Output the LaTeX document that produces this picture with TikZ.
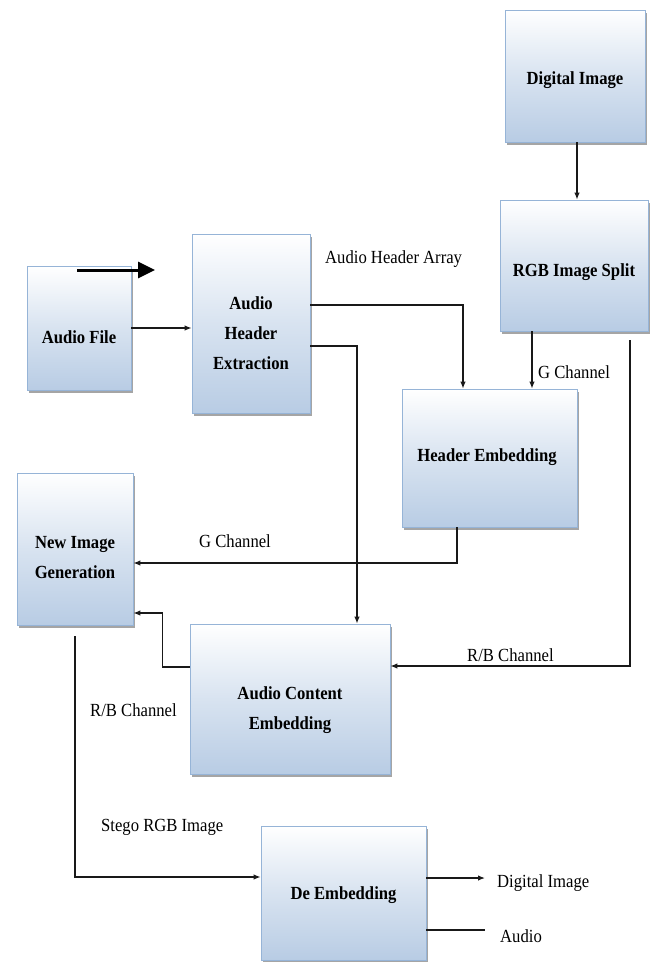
\documentclass[tikz,border=0pt]{standalone}
\usepackage{fontspec}
\setmainfont{Liberation Serif}[FakeStretch=0.9]
\usetikzlibrary{arrows.meta,shadows,calc}

\definecolor{boxblue}{RGB}{184,204,228}
\definecolor{boxedge}{RGB}{150,180,215}
\definecolor{shadowgray}{RGB}{165,165,165}

% centred stack of lines, baseline on the first line
\newcommand\stackl[1]{\begin{tabular}[t]{@{}c@{}}#1\end{tabular}}

\begin{document}
\begin{tikzpicture}[x=1pt,y=-1pt,
  blk/.style={rectangle, draw=boxedge, line width=0.8pt, inner sep=0pt,
    top color=white, bottom color=boxblue, middle color=boxblue!55!white,
    drop shadow={shadow xshift=2pt, shadow yshift=-2.5pt, fill=shadowgray, opacity=1}},
  btxt/.style={anchor=base, inner sep=0pt,
    font=\fontsize{18.5}{30}\selectfont\bfseries},
  lbl/.style={anchor=base west, inner sep=0pt,
    font=\fontsize{18.5}{22}\selectfont},
  line/.style={draw=black!90, line width=1.2pt},
  arr/.style={line, -{Latex[length=7pt,width=5.5pt]}},
  bigarr/.style={draw=black, line width=3pt, -{Triangle[length=17pt,width=16pt]}}]

\useasboundingbox (0,0) rectangle (652,962);

% ---- process blocks ----
\node[blk, minimum width=104pt, minimum height=124pt] (audio) at (79,328) {};
\node[blk, minimum width=118pt, minimum height=179pt] (ahe)   at (251,323.5) {};
\node[blk, minimum width=140pt, minimum height=132pt] (dimg)  at (575,76) {};
\node[blk, minimum width=148pt, minimum height=131pt] (rgb)   at (574,265.5) {};
\node[blk, minimum width=175pt, minimum height=138pt] (he)    at (489.5,458) {};
\node[blk, minimum width=116pt, minimum height=152pt] (nig)   at (75,549) {};
\node[blk, minimum width=200pt, minimum height=150pt] (ace)   at (290,699) {};
\node[blk, minimum width=165pt, minimum height=134pt] (de)    at (343.5,893) {};

% ---- block captions ----
\node[btxt] (audio-t) at (79,343)  {Audio File};
\node[btxt] (ahe-t)   at (251,309) {\stackl{Audio\\Header\\Extraction}};
\node[btxt] (dimg-t)  at (575,84)  {Digital Image};
\node[btxt] (rgb-t)   at (574,276) {RGB Image Split};
\node[btxt] (he-t)    at (487,461) {Header Embedding};
\node[btxt] (nig-t)   at (75,548)  {\stackl{New Image\\Generation}};
\node[btxt] (ace-t)   at (290,699) {\stackl{Audio Content\\Embedding}};
\node[btxt] (de-t)    at (343.5,899) {De Embedding};

% ---- connector labels ----
\node[lbl] (lbl-aha)  at (325,263) {Audio Header Array};
\node[lbl] (lbl-g1)   at (538,378) {G Channel};
\node[lbl] (lbl-g2)   at (199,547) {G Channel};
\node[lbl] (lbl-rb1)  at (467,661) {R/B Channel};
\node[lbl] (lbl-rb2)  at (90,716)  {R/B Channel};
\node[lbl] (lbl-sg)   at (101,831) {Stego RGB Image};
\node[lbl] (lbl-img)  at (497,887) {Digital Image};
\node[lbl] (lbl-aud)  at (500,942) {Audio};

% ---- bold input arrow ----
\coordinate (b0) at (77,270);
\coordinate (b1) at (155,270);
\draw[bigarr] (b0) -- (b1);

% ---- connectors ----
\draw[arr] (audio.east) -- (audio.east -| ahe.west);

\coordinate (di0) at ($(dimg.south)+(2,0)$);
\draw[arr] (di0) -- (di0 |- rgb.north);

\coordinate (g0) at ($(rgb.south)+(-42,0)$);
\draw[arr] (g0) -- (g0 |- he.north);

\coordinate (rb0) at ($(rgb.south)+(56,9)$);
\draw[arr] (rb0) |- ($(ace.east)+(0,-33)$);

\draw[arr] ($(ahe.east)+(0,-18.5)$) -| ($(he.north)+(-26.5,0)$);
\draw[arr] ($(ahe.east)+(0,22.5)$) -| ($(ace.north)+(67,0)$);

\draw[arr] ($(he.south)+(-32.5,0)$) |- ($(nig.east)+(0,14)$);

\coordinate (k1) at ($(nig.east)+(29,64)$);
\draw[arr] ($(ace.west)+(0,-32)$) -| (k1) -- ($(nig.east)+(0,64)$);

\draw[arr] ($(nig.south)+(0,11)$) |- ($(de.west)+(0,-16)$);

\coordinate (d1) at ($(de.east)+(0,-15)$);
\draw[arr, shorten >=12pt] (d1) -- (d1 -| lbl-img.west);
\coordinate (d2) at ($(de.east)+(0,37)$);
\draw[line, shorten >=15pt] (d2) -- (d2 -| lbl-aud.west);

\end{tikzpicture}
\end{document}
